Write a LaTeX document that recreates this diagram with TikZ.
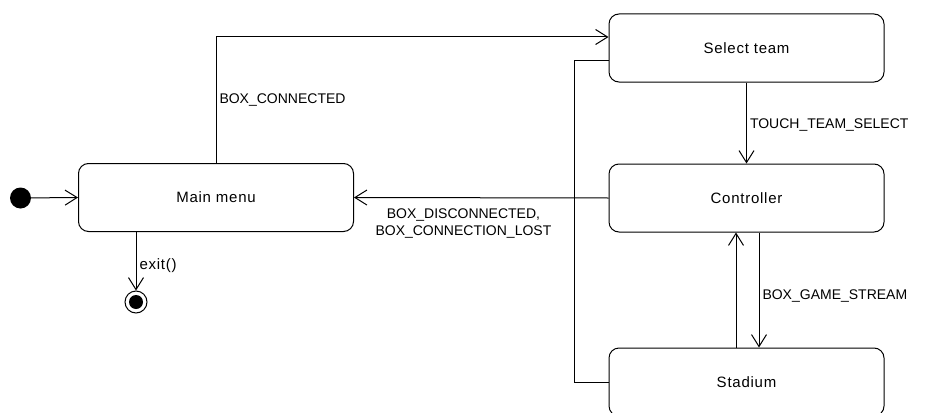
\documentclass[tikz,border=0pt]{standalone}
\usepackage{fontspec}
\setmainfont{Liberation Sans}
\newfontfamily\widefont[LetterSpace=5]{Liberation Sans}
\usetikzlibrary{positioning,arrows.meta}

\begin{document}
\begin{tikzpicture}[
  x=1pt, y=-1pt,
  font=\fontsize{14}{16.5}\selectfont,
  every node/.style={align=center},
  state/.style={rectangle, rounded corners=10pt, draw=black, line width=1pt,
    minimum width=275pt, minimum height=68pt, inner sep=0pt,
    font=\widefont\fontsize{15}{17}\selectfont},
  initial/.style={circle, fill=black, minimum size=21pt, inner sep=0pt},
  final/.style={circle, draw=black, line width=1pt, minimum size=22pt, inner sep=0pt,
    path picture={\fill[black] (path picture bounding box.center) circle (7pt);}},
  arr/.style={-{Straight Barb[length=12pt, width=15pt, line width=1pt]}, line width=1pt, draw=black},
  lbl/.style={inner sep=3pt}
]
\useasboundingbox (0,0) rectangle (925,412);

\node[initial] (init) at (20.5,198) {};
\node[state] (mainmenu)   at (216,197.5) {Main menu};
\node[final] (final)      at (136,302) {};
\node[state] (select)     at (746.5,48)  {Select team};
\node[state] (controller) at (746.5,198) {Controller};
\node[state] (stadium)    at (746.5,382) {Stadium};

\draw[arr] (init) -- (mainmenu.west);
\draw[arr] ([xshift=-80pt]mainmenu.south) -- node[lbl, right, pos=0.58, font=\widefont\fontsize{15}{17}\selectfont] {exit()} (final);

\draw[arr] (mainmenu.north) |- node[lbl, right, pos=0.25] {BOX\_CONNECTED} ([yshift=11pt]select.west);
\draw[arr] (select.south) -- node[lbl, right, pos=0.52] {TOUCH\_TEAM\_SELECT} (controller.north);

\draw[arr] (controller.west) -- node[lbl, below, pos=0.57, yshift=-8pt]
  {BOX\_DISCONNECTED,\\BOX\_CONNECTION\_LOST} (mainmenu.east);
\draw[line width=1pt] ([yshift=-12pt]select.west) -- ++(-34,0) |- (stadium.west);

\draw[arr] ([xshift=12.5pt]controller.south) -- node[lbl, right, pos=0.55] {BOX\_GAME\_STREAM} ([xshift=12.5pt]stadium.north);
\draw[arr] ([xshift=-10.5pt]stadium.north) -- ([xshift=-10.5pt]controller.south);

\end{tikzpicture}
\end{document}
